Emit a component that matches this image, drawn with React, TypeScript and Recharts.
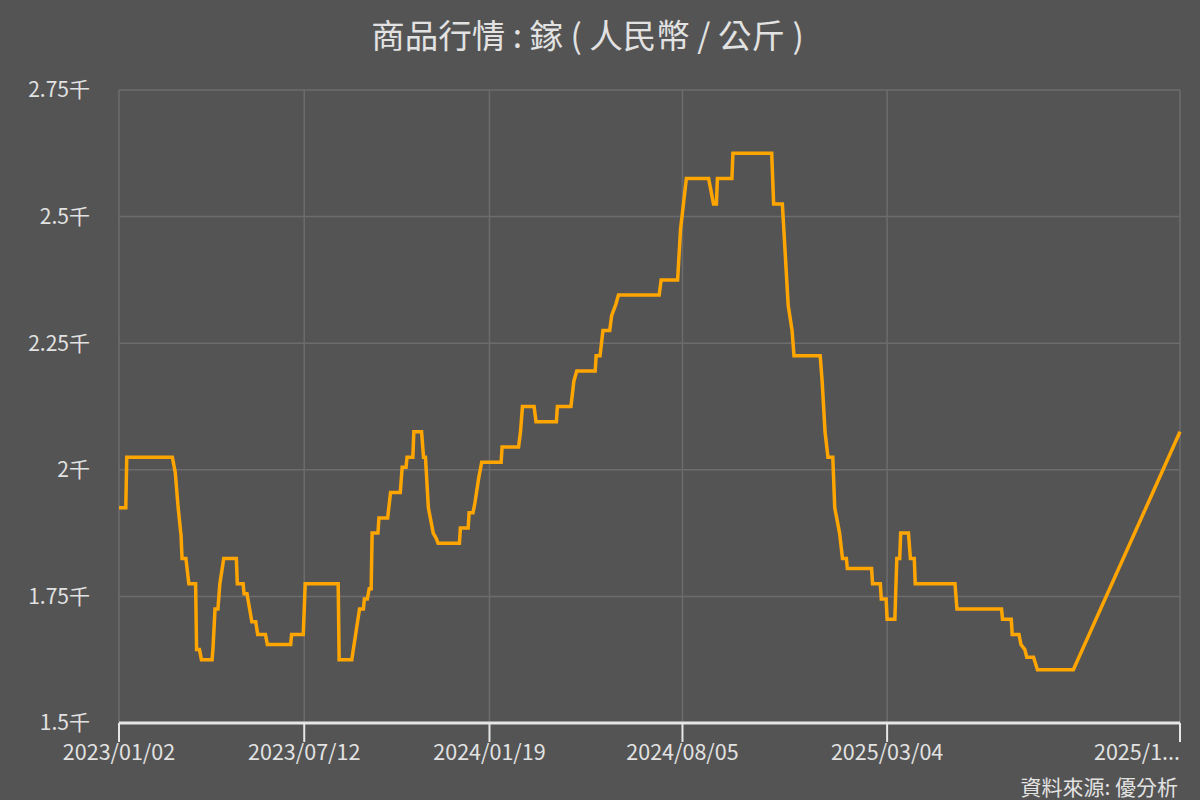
import { LineChart, Line, XAxis, YAxis, CartesianGrid } from "recharts";

const dates = [
  "2023-01-02", "2023-01-09", "2023-01-10", "2023-02-26", "2023-03-01", "2023-03-04", "2023-03-07", "2023-03-08",
  "2023-03-12", "2023-03-15", "2023-03-22", "2023-03-23", "2023-03-26", "2023-03-28", "2023-04-08", "2023-04-09",
  "2023-04-11", "2023-04-14", "2023-04-16", "2023-04-20", "2023-05-03", "2023-05-04", "2023-05-10", "2023-05-11",
  "2023-05-14", "2023-05-19", "2023-05-23", "2023-05-25", "2023-06-02", "2023-06-04", "2023-06-28", "2023-06-29",
  "2023-07-11", "2023-07-13", "2023-08-16", "2023-08-17", "2023-08-30", "2023-09-07", "2023-09-11", "2023-09-12",
  "2023-09-15", "2023-09-17", "2023-09-19", "2023-09-20", "2023-09-26", "2023-09-27", "2023-10-06", "2023-10-09",
  "2023-10-19", "2023-10-21", "2023-10-25", "2023-10-26", "2023-11-01", "2023-11-02", "2023-11-10", "2023-11-12",
  "2023-11-14", "2023-11-17", "2023-11-22", "2023-11-25", "2023-11-27", "2023-12-19", "2023-12-20", "2023-12-28",
  "2023-12-29", "2024-01-02", "2024-01-04", "2024-01-08", "2024-01-11", "2024-01-31", "2024-02-01", "2024-02-18",
  "2024-02-20", "2024-02-22", "2024-03-05", "2024-03-07", "2024-03-28", "2024-03-29", "2024-04-12", "2024-04-15",
  "2024-04-18", "2024-05-07", "2024-05-08", "2024-05-12", "2024-05-15", "2024-05-22", "2024-05-24", "2024-05-28",
  "2024-05-31", "2024-07-12", "2024-07-14", "2024-07-31", "2024-08-03", "2024-08-06", "2024-08-09", "2024-09-01",
  "2024-09-06", "2024-09-09", "2024-09-10", "2024-09-25", "2024-09-26", "2024-11-05", "2024-11-07", "2024-11-16",
  "2024-11-19", "2024-11-22", "2024-11-26", "2024-11-28", "2024-12-25", "2024-12-27", "2024-12-30", "2025-01-02",
  "2025-01-07", "2025-01-09", "2025-01-14", "2025-01-17", "2025-01-21", "2025-01-22", "2025-02-16", "2025-02-17",
  "2025-02-25", "2025-02-26", "2025-03-03", "2025-03-04", "2025-03-12", "2025-03-14", "2025-03-17", "2025-03-18",
  "2025-03-26", "2025-03-28", "2025-04-01", "2025-04-02", "2025-05-13", "2025-05-15", "2025-06-30", "2025-07-01",
  "2025-07-10", "2025-07-11", "2025-07-18", "2025-07-20", "2025-07-24", "2025-07-26", "2025-08-02", "2025-08-06",
  "2025-09-12", "2025-12-31",
];

const prices = [
  1925, 1925, 2025, 2025, 1995, 1925, 1870, 1825,
  1825, 1775, 1775, 1645, 1645, 1625, 1625, 1650,
  1725, 1725, 1775, 1825, 1825, 1775, 1775, 1755,
  1755, 1700, 1700, 1675, 1675, 1655, 1655, 1675,
  1675, 1775, 1775, 1625, 1625, 1725, 1725, 1745,
  1745, 1765, 1765, 1875, 1875, 1905, 1905, 1955,
  1955, 2005, 2005, 2025, 2025, 2075, 2075, 2025,
  2025, 1925, 1875, 1865, 1855, 1855, 1885, 1885,
  1915, 1915, 1935, 1985, 2015, 2015, 2045, 2045,
  2075, 2125, 2125, 2095, 2095, 2125, 2125, 2175,
  2195, 2195, 2225, 2225, 2275, 2275, 2305, 2325,
  2345, 2345, 2375, 2375, 2475, 2525, 2575, 2575,
  2525, 2525, 2575, 2575, 2625, 2625, 2525, 2525,
  2425, 2325, 2275, 2225, 2225, 2175, 2075, 2025,
  2025, 1925, 1875, 1825, 1825, 1805, 1805, 1775,
  1775, 1745, 1745, 1705, 1705, 1825, 1825, 1875,
  1875, 1825, 1825, 1775, 1775, 1725, 1725, 1705,
  1705, 1675, 1675, 1655, 1645, 1630, 1630, 1605,
  1605, 2075,
];

const xTickDates = ["2023-01-02", "2023-07-12", "2024-01-19", "2024-08-05", "2025-03-04", "2025-12-31"];
const yTicks = [1500, 1750, 2000, 2250, 2500, 2750];

const title = "商品行情 : 鎵 ( 人民幣 / 公斤 )";
const source = "資料來源: 優分析";

const data = dates.map((d, i) => ({ t: Date.parse(d), price: prices[i] }));
const xTicks = xTickDates.map((d) => Date.parse(d));

const FONT = "'Noto Sans CJK TC', 'Noto Sans', sans-serif";
const TEXT = "#e2e2e2";

const fmtDate = (v: number, i: number) => {
  const s = new Date(v).toISOString().slice(0, 10).replace(/-/g, "/");
  // last label gets cut short like the original
  return i === xTicks.length - 1 ? s.slice(0, 6) + "..." : s;
};

const fmtK = (v: number) => `${v / 1000}千`;

const XTick = (props: any) => {
  const { x, y, payload, index } = props;
  const last = index === xTicks.length - 1;
  return (
    <text
      x={x}
      y={y}
      dy="0.71em"
      textAnchor={last ? "end" : "middle"}
      fill={TEXT}
      fontSize={21.5}
      fontFamily={FONT}
    >
      {fmtDate(payload.value, index)}
    </text>
  );
};

export default function App() {
  return (
    <div
      style={{
        position: "absolute",
        left: 0,
        top: 0,
        width: 1200,
        height: 800,
        background: "#545454",
        fontFamily: FONT,
      }}
    >
      <div
        style={{
          position: "absolute",
          top: 9,
          left: 0,
          width: 1175,
          textAlign: "center",
          color: TEXT,
          fontSize: 33.5,
        }}
      >
        {title}
      </div>
      <LineChart
        width={1200}
        height={800}
        data={data}
        margin={{ top: 90, right: 20, bottom: 0, left: 0 }}
      >
        <CartesianGrid stroke="#6c6c6c" strokeWidth={1.5} />
        <XAxis
          dataKey="t"
          type="number"
          scale="time"
          domain={[xTicks[0], xTicks[xTicks.length - 1]]}
          ticks={xTicks}
          interval={0}
          height={77}
          axisLine={{ stroke: "#e6e6e6", strokeWidth: 3 }}
          tickLine={{ stroke: "#e6e6e6", strokeWidth: 2 }}
          tickSize={19}
          tickMargin={3}
          tick={<XTick />}
        />
        <YAxis
          domain={[1500, 2750]}
          ticks={yTicks}
          tickFormatter={fmtK}
          width={119}
          axisLine={false}
          tickLine={false}
          tickSize={0}
          tickMargin={29}
          tick={{ fill: TEXT, fontSize: 21, fontFamily: FONT }}
        />
        <Line
          type="linear"
          dataKey="price"
          stroke="#ffa500"
          strokeWidth={3.5}
          dot={false}
          isAnimationActive={false}
        />
      </LineChart>
      <div
        style={{
          position: "absolute",
          right: 22,
          top: 771,
          color: TEXT,
          fontSize: 21,
        }}
      >
        {source}
      </div>
    </div>
  );
}
